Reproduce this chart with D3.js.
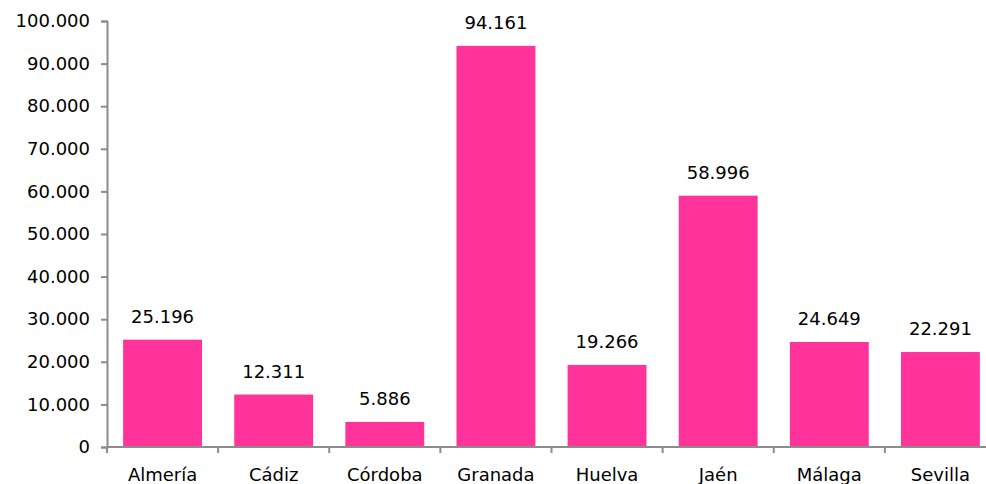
<!DOCTYPE html>
<html>
<head>
<meta charset="utf-8">
<script src="https://cdn.jsdelivr.net/npm/d3@7"></script>
<style>
  body { margin: 0; background: #fff; }
  text { font-family: "DejaVu Sans", sans-serif; fill: #000; }
</style>
</head>
<body>
<svg id="chart"></svg>
<script>
// --- data ---
const provinces = ['Almería', 'Cádiz', 'Córdoba', 'Granada', 'Huelva', 'Jaén', 'Málaga', 'Sevilla'];
const values = [25196, 12311, 5886, 94161, 19266, 58996, 24649, 22291];
const yTicks = [0, 10000, 20000, 30000, 40000, 50000, 60000, 70000, 80000, 90000, 100000];

const width = 986;
const height = 484;
const barColor = '#ff3399';
const axisColor = '#8c8c8c';

const svg = d3.select('#chart').attr('width', width).attr('height', height);

const x = d3.scaleBand()
    .domain(provinces)
    .range([107, 996])
    .paddingInner(0.29)
    .paddingOuter(0.145);

const y = d3.scaleLinear()
    .domain([0, 100000])
    .range([447, 21]);

// Spanish thousands separator
const fmt = v => d3.format(',')(v).replace(/,/g, '.');

// bars
svg.append('g')
    .selectAll('rect')
    .data(values)
    .enter()
    .append('rect')
    .attr('x', (d, i) => x(provinces[i]))
    .attr('y', d => y(d))
    .attr('width', x.bandwidth())
    .attr('height', d => y(0) - y(d))
    .attr('fill', barColor);

// value labels
svg.append('g')
    .selectAll('text')
    .data(values)
    .enter()
    .append('text')
    .attr('x', (d, i) => x(provinces[i]) + x.bandwidth() / 2)
    .attr('y', d => y(d) - 17)
    .attr('text-anchor', 'middle')
    .style('font-size', '18px')
    .text(d => fmt(d));

// y axis
const yAxis = svg.append('g')
    .attr('transform', 'translate(107,0)')
    .call(d3.axisLeft(y).tickValues(yTicks).tickSize(6).tickPadding(11).tickFormat(fmt));
yAxis.selectAll('text').style('font-size', '18px');
yAxis.select('.domain').attr('stroke', axisColor).attr('stroke-width', 2);
yAxis.selectAll('.tick line').attr('stroke', axisColor).attr('stroke-width', 2);

// x axis with ticks between categories
const edges = d3.range(provinces.length + 1).map(i => 107 + i * x.step());
const xAxis = svg.append('g').attr('transform', 'translate(0,447)');
xAxis.append('line')
    .attr('x1', 107).attr('x2', 996)
    .attr('stroke', axisColor).attr('stroke-width', 2);
xAxis.selectAll('.edge')
    .data(edges)
    .enter()
    .append('line')
    .attr('class', 'edge')
    .attr('x1', d => d).attr('x2', d => d)
    .attr('y1', 0).attr('y2', 6)
    .attr('stroke', axisColor).attr('stroke-width', 2);
xAxis.selectAll('.cat')
    .data(provinces)
    .enter()
    .append('text')
    .attr('class', 'cat')
    .attr('x', d => x(d) + x.bandwidth() / 2)
    .attr('y', 34)
    .attr('text-anchor', 'middle')
    .style('font-size', '18px')
    .text(d => d);
</script>
</body>
</html>
